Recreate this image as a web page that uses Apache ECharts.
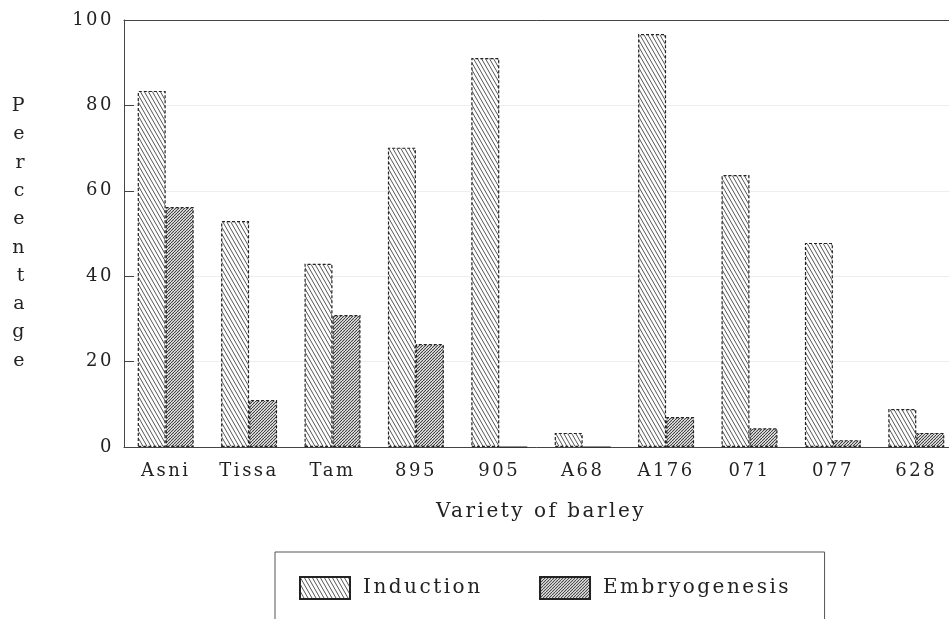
<!DOCTYPE html>
<html>
<head>
<meta charset="utf-8">
<script src="https://cdn.jsdelivr.net/npm/echarts@6/dist/echarts.min.js"></script>
<style>
  html, body { margin: 0; padding: 0; background: #fff; }
  #main { width: 949px; height: 619px; }
</style>
</head>
<body>
<div id="main"></div>
<script>
// data
var varieties = ['Asni', 'Tissa', 'Tam', '895', '905', 'A68', 'A176', '071', '077', '628'];
var induction = [83.4, 52.9, 42.9, 70.1, 91.1, 3.3, 96.7, 63.7, 47.8, 8.9];
var embryogenesis = [56.2, 11.0, 30.9, 24.1, 0, 0, 7.0, 4.4, 1.6, 3.3];
var yTicks = [0, 20, 40, 60, 80, 100];

var serif = 'DejaVu Serif';

// the old typeset labels are widely tracked
var fillText0 = CanvasRenderingContext2D.prototype.fillText;
CanvasRenderingContext2D.prototype.fillText = function () {
    this.letterSpacing = '2.5px';
    return fillText0.apply(this, arguments);
};

// hatch tiles
function hatch(w, h, back, color, lw) {
    var c = document.createElement('canvas');
    c.width = w; c.height = h;
    var ctx = c.getContext('2d');
    ctx.fillStyle = '#fff';
    ctx.fillRect(0, 0, w, h);
    ctx.strokeStyle = color;
    ctx.lineWidth = lw;
    for (var k = -1; k <= 1; k++) {
        ctx.beginPath();
        if (back) {
            ctx.moveTo(k * w, 0);
            ctx.lineTo(k * w + w, h);
        } else {
            ctx.moveTo(k * w, h);
            ctx.lineTo(k * w + w, 0);
        }
        ctx.stroke();
    }
    return c;
}

var indPattern = { image: hatch(4, 7, true, '#555', 1.0), repeat: 'repeat' };
var embPattern = { image: hatch(3, 3, false, '#3a3a3a', 1.1), repeat: 'repeat' };

var myChart = echarts.init(document.getElementById('main'));

var option = {
    animation: false,
    backgroundColor: '#fff',
    grid: {
        left: 124, top: 20, width: 834, bottom: 172,
        outerBoundsMode: 'none'
    },
    legend: {
        left: 275, top: 552,
        orient: 'horizontal',
        icon: 'rect',
        itemWidth: 50, itemHeight: 22, itemGap: 79,
        borderColor: '#555', borderWidth: 1,
        padding: [24, 66, 40, 24],
        textStyle: { fontFamily: serif, fontSize: 20, color: '#222', padding: [0, 0, 0, 8] },
        data: ['Induction', 'Embryogenesis']
    },
    xAxis: [
        {
            type: 'category',
            data: varieties,
            name: 'Variety of barley',
            nameLocation: 'middle',
            nameGap: 55,
            nameTextStyle: { fontFamily: serif, fontSize: 20, color: '#222' },
            axisLine: { lineStyle: { color: '#444', width: 1 } },
            axisTick: { show: false },
            axisLabel: { fontFamily: serif, fontSize: 18, color: '#222', margin: 15 }
        },
        {
            // top frame line
            type: 'category',
            data: varieties,
            position: 'top',
            axisLine: { lineStyle: { color: '#444', width: 1 } },
            axisTick: { show: false },
            axisLabel: { show: false }
        }
    ],
    yAxis: {
        type: 'value',
        min: yTicks[0], max: yTicks[yTicks.length - 1], interval: 20,
        name: 'Percentage'.split('').join('\n'),
        nameLocation: 'middle',
        nameRotate: 0,
        nameGap: 97,
        nameTextStyle: { fontFamily: serif, fontSize: 19, color: '#222', lineHeight: 28.3, padding: [16, 0, 0, 0] },
        axisLine: { show: true, lineStyle: { color: '#444', width: 1 } },
        axisTick: { show: true, inside: true, length: 10, lineStyle: { color: '#444' } },
        axisLabel: { fontFamily: serif, fontSize: 18, color: '#222', margin: 10 },
        splitLine: { show: true, lineStyle: { color: '#eeeeee', width: 1 } }
    },
    series: [
        {
            name: 'Induction',
            type: 'bar',
            data: induction,
            barWidth: 28,
            barGap: '0%',
            itemStyle: { color: indPattern, borderColor: '#222', borderWidth: 1.2, borderType: [3, 2] }
        },
        {
            name: 'Embryogenesis',
            type: 'bar',
            data: embryogenesis,
            barWidth: 28,
            itemStyle: { color: embPattern, borderColor: '#222', borderWidth: 1.2, borderType: [3, 2] }
        }
    ]
};

myChart.setOption(option);
</script>
</body>
</html>
